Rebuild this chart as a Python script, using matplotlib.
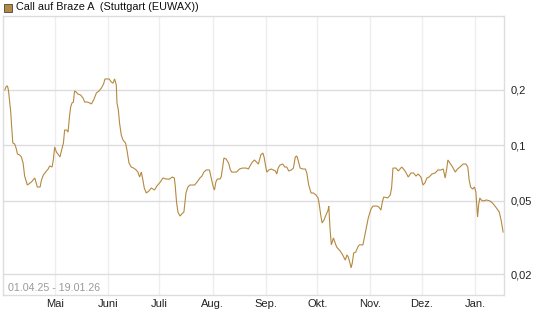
import matplotlib
matplotlib.use("Agg")
import matplotlib.pyplot as plt
import matplotlib.dates as mdates
from matplotlib.ticker import NullLocator, FixedLocator
from matplotlib.patches import Rectangle
from datetime import datetime
import numpy as np

plt.rcParams['font.family'] = ['Liberation Sans', 'DejaVu Sans']

title = "Call auf Braze A  (Stuttgart (EUWAX))"
range_label = "01.04.25 - 19.01.26"
start_date = datetime(2025, 4, 1)
end_date = datetime(2026, 1, 19)

# days since 01.04.2025
day_offsets = [
    0.9, 1.9, 2.5, 3.05, 4.4, 4.8, 5.6, 6.7, 7.5, 8.3, 9.6, 10.6, 11.6, 12.5, 14.1, 16.4,
    18.4, 19.2, 19.9, 21.5, 22.3, 23.4, 25.2, 26.2, 27.1, 28.5, 29.2, 30.0, 31.0, 32.3,
    33.1, 33.9, 35.1, 35.8, 37.0, 37.8, 38.6, 39.3, 40.1, 40.9, 41.6, 42.5, 43.6, 45.1,
    46.5, 47.5, 49.0, 50.4,
    51.4, 52.7, 54.3, 55.8, 57.2, 58.5, 59.3, 61.7, 63.0, 64.0, 64.9, 65.9, 66.3, 67.1,
    67.8, 68.8, 69.8, 71.3, 72.1, 73.3, 74.6, 76.0, 77.5, 78.5, 79.5, 80.5, 81.4, 82.2,
    83.4, 84.9, 86.3, 88.2, 89.6, 91.5, 93.1, 95.0, 96.9, 98.5, 99.7,
    100.2, 101.0, 101.8, 103.0, 104.1, 105.3, 106.5, 107.6, 108.8, 111.5, 113.0, 114.6,
    115.8, 116.9, 118.3, 120.2, 121.2, 122.4, 123.1, 123.9, 124.7, 126.3, 127.0, 127.8,
    128.6, 129.9, 131.3, 132.4, 133.2, 135.9, 137.7, 139.4, 141.6, 142.9, 144.1, 145.2,
    146.4, 147.6, 148.7,
    150.1, 151.3, 152.0, 152.8, 153.6, 154.8, 156.1, 157.4, 158.6, 159.4, 160.2, 161.3,
    162.9, 164.1, 165.2, 166.4, 167.9, 169.1, 170.2, 171.1, 171.8, 173.0, 174.6, 176.1,
    176.9, 178.0, 179.4, 180.7, 182.3, 183.5, 184.2, 185.0, 185.8, 186.9, 188.1, 189.3,
    189.7, 190.4, 191.2, 192.4, 193.2, 194.3, 196.3, 197.8, 199.3,
    200.3, 201.1, 201.9, 202.7, 203.4, 204.2, 205.4, 206.6, 207.5, 209.6, 210.4, 211.6,
    212.7, 214.3, 215.4, 217.8, 218.9, 220.1, 220.9, 221.7, 224.0, 225.5, 226.3, 227.1,
    228.9, 230.2, 232.2, 233.7, 234.8, 236.0, 237.6, 239.1, 240.5, 241.8, 243.4, 244.6,
    245.7, 246.9, 248.2,
    249.8, 251.7, 253.3, 255.0, 256.4, 257.5, 258.4, 259.1, 260.3, 261.8, 263.4, 264.7,
    266.1, 268.0, 269.6, 270.7, 271.5, 272.3, 273.5, 274.6, 275.4, 275.8, 276.4, 277.0,
    277.7, 278.5, 279.7, 281.6, 283.6, 285.1, 287.0, 289.0, 290.1, 291.3,
]

prices = [
    0.2, 0.21, 0.21, 0.2, 0.152, 0.132, 0.103, 0.1017, 0.0968, 0.0898, 0.0887, 0.0865,
    0.0802, 0.0681, 0.0609, 0.0632, 0.0665, 0.0625, 0.0594, 0.0594, 0.0648, 0.069, 0.0726,
    0.0744, 0.0773, 0.0763, 0.0833, 0.098, 0.092, 0.0887, 0.0865, 0.0932, 0.103, 0.1212,
    0.1212, 0.118, 0.1427, 0.1616, 0.170, 0.172, 0.1975, 0.195, 0.190, 0.1879, 0.181,
    0.172, 0.172, 0.170,
    0.168, 0.1765, 0.1926, 0.1975, 0.205, 0.2156, 0.2296, 0.2296, 0.221, 0.218, 0.2296,
    0.213, 0.170, 0.1557, 0.1323, 0.1138, 0.107, 0.103, 0.0944, 0.0802, 0.0763, 0.0753,
    0.0735, 0.0716, 0.0673, 0.0716, 0.0648, 0.0587, 0.0551, 0.0565, 0.0587, 0.0572,
    0.0602, 0.0632, 0.0665, 0.0656, 0.0656, 0.0673, 0.0665,
    0.0609, 0.0492, 0.0435, 0.0413, 0.0424, 0.0435, 0.0551, 0.0594, 0.0609, 0.0609,
    0.0632, 0.0665, 0.0681, 0.0716, 0.0735, 0.0735, 0.0665, 0.0594, 0.0572, 0.0632,
    0.0656, 0.0656, 0.0673, 0.0753, 0.0854, 0.0843, 0.0802, 0.0735, 0.0716, 0.0716,
    0.0744, 0.0753, 0.0753, 0.0744, 0.0782, 0.0812, 0.0833, 0.0812, 0.0792,
    0.0887, 0.0909, 0.0865, 0.0782, 0.0716, 0.0735, 0.0744, 0.0735, 0.0726, 0.0699,
    0.0753, 0.0782, 0.0792, 0.0763, 0.0763, 0.0726, 0.0735, 0.0753, 0.0865, 0.0876,
    0.0833, 0.0753, 0.0744, 0.0744, 0.0708, 0.0609, 0.0551, 0.0551, 0.0537, 0.0518,
    0.0474, 0.0419, 0.0379, 0.0393, 0.0419, 0.0445, 0.0468, 0.0356, 0.0288, 0.0314,
    0.0299, 0.028, 0.0267, 0.0254, 0.0238,
    0.0254, 0.0247, 0.0232, 0.0216, 0.023, 0.026, 0.0263, 0.028, 0.0288, 0.0288, 0.0314,
    0.036, 0.0403, 0.0451, 0.0468, 0.0468, 0.0462, 0.0445, 0.0492, 0.0524, 0.0518,
    0.0537, 0.0587, 0.0753, 0.0753, 0.0726, 0.0763, 0.0735, 0.0708, 0.0673, 0.0708,
    0.0708, 0.0681, 0.0699, 0.0673, 0.0609, 0.0625, 0.0665, 0.0673,
    0.0699, 0.0708, 0.0735, 0.0735, 0.0744, 0.0665, 0.0744, 0.0833, 0.0802, 0.0763,
    0.0716, 0.0744, 0.0763, 0.0792, 0.0792, 0.0763, 0.0648, 0.0594, 0.0579, 0.0594,
    0.0558, 0.0492, 0.0408, 0.0474, 0.0518, 0.0505, 0.0499, 0.0505, 0.0499, 0.0486,
    0.0462, 0.0435, 0.0393, 0.0338,
]

month_ticks = [datetime(2025, 5, 1), datetime(2025, 6, 1), datetime(2025, 7, 1),
               datetime(2025, 8, 1), datetime(2025, 9, 1), datetime(2025, 10, 1),
               datetime(2025, 11, 1), datetime(2025, 12, 1), datetime(2026, 1, 1)]
month_labels = ["Mai", "Juni", "Juli", "Aug.", "Sep.", "Okt.", "Nov.", "Dez.", "Jan."]
y_ticks = [0.02, 0.05, 0.1, 0.2]
y_labels = ["0,02", "0,05", "0,1", "0,2"]

line_color = "#b5893f"

W, H = 545, 327
fig = plt.figure(figsize=(W / 100, H / 100), dpi=100)
left, right, top, bottom = 2.5, 503.5, 16.0, 295.0
ax = fig.add_axes([left / W, 1 - bottom / H, (right - left) / W, (bottom - top) / H])

x0 = mdates.date2num(start_date)
xs = x0 + np.array(day_offsets)
ax.plot(xs, prices, color=line_color, lw=0.8, solid_joinstyle='miter')

ax.set_yscale('log')
ax.set_ylim(0.01538, 0.5048)
ax.set_xlim(x0 - 0.4, mdates.date2num(end_date) - 1.5)

ax.yaxis.set_major_locator(FixedLocator(y_ticks))
ax.set_yticklabels(y_labels)
ax.yaxis.set_minor_locator(NullLocator())
ax.yaxis.tick_right()

ax.set_xticks(mdates.date2num(month_ticks))
ax.set_xticklabels(month_labels)
ax.xaxis.set_minor_locator(NullLocator())

ax.tick_params(axis='both', length=0, labelsize=8, colors='#222222')
ax.tick_params(axis='y', pad=5)
ax.tick_params(axis='x', pad=3)

ax.grid(axis='y', color='#dddddd', lw=1)
ax.grid(axis='x', color='#eeeeee', lw=1)
ax.set_axisbelow(True)

for s in ax.spines.values():
    s.set_color('#dddddd')
    s.set_linewidth(1)

ax.text(6 / (right - left), (bottom - 288) / (bottom - top), range_label,
        transform=ax.transAxes, fontsize=7.7, color='#9a9a9a', va='center', ha='left')

# legend header
fig.patches.append(Rectangle((4 / W, 1 - 11.5 / H), 7.5 / W, 7.5 / H, transform=fig.transFigure,
                             facecolor=line_color, edgecolor='#444444', lw=0.6))
fig.text(16 / W, 1 - 7.5 / H, title, fontsize=7.8, color='#111111', va='center', ha='left')

fig.savefig("out.png", dpi=100)
